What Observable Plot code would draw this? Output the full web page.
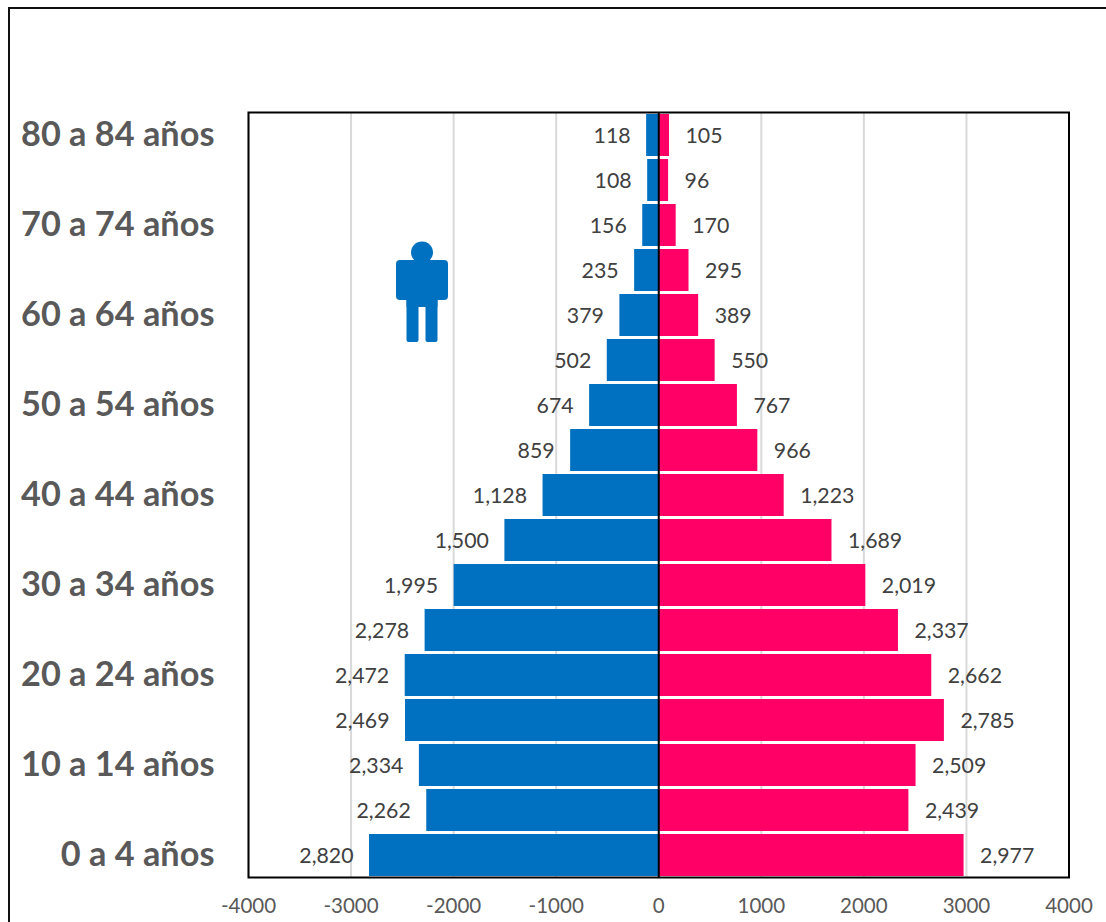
<!DOCTYPE html>
<html>
<head>
<meta charset="utf-8">
<script src="https://cdn.jsdelivr.net/npm/d3@7"></script>
<script src="https://cdn.jsdelivr.net/npm/@observablehq/plot@0.6"></script>
<style>
html,body{margin:0;padding:0;background:#fff;overflow:hidden}
#wrap{position:relative;width:1106px;height:922px;font-family:Lato,sans-serif}
#border{position:absolute;left:8px;top:7px;right:0;bottom:0;border-left:2px solid #111;border-top:2px solid #111;box-sizing:border-box}
#chart{position:absolute;left:0;top:0}
#icon{position:absolute;left:395px;top:241px}
svg{display:block}
</style>
</head>
<body>
<div id="wrap"><div id="border"></div><div id="chart"></div>
<svg id="icon" width="54" height="102" viewBox="0 0 54 102">
<circle cx="27" cy="11.500" r="11" fill="#0070C0"/>
<rect x="1" y="19" width="52" height="40" rx="4" fill="#0070C0"/>
<rect x="11.500" y="50" width="12" height="51" rx="2" fill="#0070C0"/>
<rect x="30.500" y="50" width="12" height="51" rx="2" fill="#0070C0"/>
<rect x="11.500" y="50" width="31" height="16" fill="#0070C0"/>
</svg>
</div>
<script>
const ages = ["0 a 4 años","5 a 9 años","10 a 14 años","15 a 19 años","20 a 24 años","25 a 29 años","30 a 34 años","35 a 39 años","40 a 44 años","45 a 49 años","50 a 54 años","55 a 59 años","60 a 64 años","65 a 69 años","70 a 74 años","75 a 79 años","80 a 84 años"];
const shownAges = ages.filter((d,i)=>i%2===0);
const men = [2820,2262,2334,2469,2472,2278,1995,1500,1128,859,674,502,379,235,156,108,118];
const women = [2977,2439,2509,2785,2662,2337,2019,1689,1223,966,767,550,389,295,170,96,105];
const xTicks = [-4000,-3000,-2000,-1000,0,1000,2000,3000,4000];
const menRows = ages.map((age,i)=>({age,v:-men[i],label:d3.format(",")(men[i])}));
const womenRows = ages.map((age,i)=>({age,v:women[i],label:d3.format(",")(women[i])}));

const plot = Plot.plot({
  width:1106,height:922,
  marginLeft:248,marginRight:37.500,marginTop:112,marginBottom:45,
  style:{fontFamily:"Lato, sans-serif",background:"transparent"},
  x:{domain:[-4000,4000],label:null},
  y:{domain:[...ages].reverse(),paddingInner:0.07,paddingOuter:0.035,label:null},
  marks:[
    Plot.ruleX(xTicks,{stroke:"#D9D9D9",strokeWidth:2}),
    Plot.barX(menRows,{x1:0,x2:"v",y:"age",fill:"#0070C0"}),
    Plot.barX(womenRows,{x1:0,x2:"v",y:"age",fill:"#FF0066"}),
    Plot.ruleX([0],{stroke:"#000",strokeWidth:2}),
    Plot.frame({stroke:"#000",strokeWidth:2}),
    Plot.text(menRows,{x:"v",y:"age",text:"label",textAnchor:"end",dx:-16,dy:1,fontSize:21.300,fill:"#404040"}),
    Plot.text(womenRows,{x:"v",y:"age",text:"label",textAnchor:"start",dx:16,dy:1,fontSize:21.300,fill:"#404040"}),
    Plot.axisX({ticks:xTicks,tickSize:0,tickPadding:21,fontSize:20.500,fill:"#595959",tickFormat:d=>String(d),label:null}),
    Plot.axisY({ticks:shownAges,tickSize:0,tickPadding:34,fontSize:34.300,fontWeight:"bold",fill:"#595959",label:null})
  ]
});
document.getElementById("chart").appendChild(plot);
</script>
</body>
</html>
